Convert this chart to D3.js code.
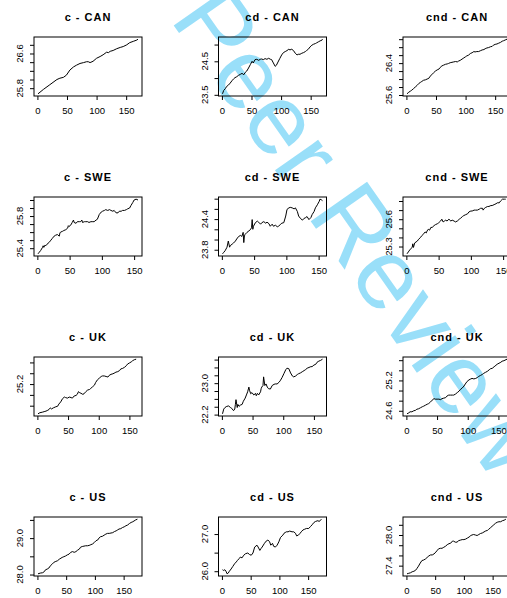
<!DOCTYPE html>
<html><head><meta charset="utf-8">
<script src="https://cdn.jsdelivr.net/npm/d3@7"></script>
<style>html,body{margin:0;padding:0;background:#fff;} svg{display:block;}</style>
</head><body>
<script>
const countries = ["CAN","SWE","UK","US"];
const seriesNames = ["c","cd","cnd"];
const nObs = {CAN:170, SWE:156, UK:164, US:175};
const xTickValues = [0,50,100,150];

// ---- CAN ----
const x_c_CAN = [1,10,21,33,38,44,49,55,61,66,72,78,83,86,89,94,100,106,111,117,120,123,128,134,140,145,151,156,162,168,170];
const y_c_CAN = [25.67,25.77,25.88,26.00,26.03,26.05,26.10,26.22,26.29,26.33,26.37,26.39,26.41,26.41,26.39,26.42,26.49,26.53,26.57,26.63,26.62,26.65,26.67,26.71,26.74,26.76,26.80,26.85,26.88,26.91,26.93];
const x_cd_CAN = [1,3,6,8,11,14,17,20,22,25,28,31,34,37,39,42,45,48,51,53,56,59,62,65,67,70,73,76,79,82,84,87,90,92,94,98,101,104,107,110,113,115,118,121,124,127,129,132,135,138,141,143,146,149,152,155,158,160,163,166,169,170];
const y_cd_CAN = [23.53,23.63,23.69,23.75,23.79,23.85,23.92,23.98,24.01,24.04,24.08,24.11,24.14,24.10,24.16,24.21,24.30,24.40,24.50,24.45,24.55,24.56,24.53,24.56,24.57,24.55,24.58,24.56,24.59,24.56,24.55,24.45,24.35,24.38,24.45,24.59,24.69,24.76,24.79,24.82,24.86,24.84,24.86,24.82,24.74,24.69,24.71,24.71,24.74,24.76,24.79,24.82,24.86,24.93,24.98,25.01,25.03,25.05,25.08,25.11,25.13,25.16];
const x_cnd_CAN = [1,4,7,9,12,15,18,21,24,26,29,32,35,38,40,43,46,49,52,55,57,60,63,66,69,71,74,77,80,83,86,88,91,94,97,100,102,105,108,111,114,116,119,122,125,128,131,133,136,139,142,145,147,150,153,156,159,162,164,167,170];
const y_cnd_CAN = [25.63,25.67,25.70,25.72,25.76,25.80,25.84,25.89,25.92,25.94,25.97,25.98,26.00,26.02,26.07,26.11,26.16,26.20,26.23,26.25,26.29,26.33,26.35,26.37,26.38,26.39,26.41,26.42,26.43,26.44,26.43,26.45,26.47,26.50,26.53,26.56,26.58,26.60,26.64,26.66,26.69,26.68,26.69,26.69,26.71,26.73,26.74,26.76,26.78,26.79,26.81,26.82,26.85,26.87,26.88,26.90,26.92,26.95,26.96,26.98,27.00];

// ---- SWE ----
const x_c_SWE = [1,3,5,8,9,10,12,13,15,18,21,23,26,28,31,34,35,36,39,41,44,47,48,49,52,54,56,57,60,62,65,67,69,70,73,75,78,80,83,86,88,91,93,96,99,101,104,106,109,112,114,117,119,122,125,127,130,132,135,138,140,143,145,148,150,153,156];
const y_c_SWE = [25.33,25.35,25.37,25.41,25.43,25.41,25.44,25.43,25.45,25.47,25.50,25.52,25.55,25.56,25.57,25.55,25.59,25.60,25.61,25.62,25.63,25.65,25.68,25.67,25.69,25.72,25.75,25.72,25.71,25.73,25.73,25.73,25.75,25.72,25.73,25.73,25.73,25.72,25.73,25.73,25.73,25.75,25.76,25.82,25.85,25.86,25.87,25.88,25.87,25.88,25.87,25.86,25.87,25.84,25.84,25.86,25.86,25.87,25.87,25.88,25.89,25.90,25.93,25.97,26.00,26.01,26.00];
const x_cd_SWE = [1,3,5,8,10,12,13,16,18,21,23,26,29,31,33,34,35,36,39,42,44,46,47,48,49,52,55,57,60,62,65,68,70,73,75,78,80,83,86,88,91,93,96,99,101,104,106,109,112,114,117,119,122,125,127,130,132,135,138,140,143,145,148,151,152,154,156];
const y_cd_SWE = [23.72,23.75,23.78,23.85,23.97,23.85,23.88,23.91,23.93,23.97,24.01,24.06,24.08,24.06,24.14,23.94,24.07,24.10,24.14,24.17,24.19,24.23,24.39,24.20,24.26,24.33,24.36,24.34,24.30,24.33,24.35,24.32,24.34,24.31,24.26,24.30,24.26,24.28,24.25,24.26,24.30,24.32,24.33,24.46,24.59,24.62,24.63,24.62,24.60,24.62,24.55,24.46,24.41,24.38,24.41,24.43,24.45,24.39,24.43,24.49,24.55,24.62,24.68,24.75,24.79,24.78,24.76];
const x_cnd_SWE = [1,4,6,9,10,11,13,15,17,19,22,24,27,29,31,32,34,36,38,40,43,45,48,50,53,55,57,59,61,63,66,69,71,74,76,79,82,84,87,89,92,95,97,100,102,105,107,110,113,115,118,119,121,123,126,128,131,133,136,139,141,144,146,149,152,154];
const y_cnd_SWE = [25.22,25.25,25.27,25.29,25.33,25.29,25.34,25.35,25.36,25.38,25.40,25.42,25.44,25.46,25.45,25.47,25.49,25.48,25.51,25.51,25.53,25.54,25.55,25.56,25.58,25.60,25.57,25.58,25.59,25.58,25.60,25.58,25.59,25.58,25.57,25.58,25.60,25.61,25.63,25.64,25.65,25.66,25.68,25.69,25.69,25.70,25.70,25.70,25.71,25.72,25.72,25.70,25.72,25.73,25.74,25.74,25.75,25.75,25.76,25.77,25.78,25.78,25.80,25.82,25.82,25.82];

// ---- UK ----
const x_c_UK = [1,4,8,11,14,16,19,21,23,26,30,33,35,38,41,44,46,49,52,55,57,60,63,65,67,69,71,74,76,79,82,85,87,90,93,95,98,101,104,106,109,112,115,117,120,123,125,128,131,134,136,139,142,145,147,150,153,155,158,161];
const y_c_UK = [24.65,24.67,24.68,24.69,24.70,24.71,24.73,24.76,24.74,24.76,24.78,24.79,24.83,24.87,24.93,24.96,24.95,24.94,24.96,24.95,24.94,24.98,24.99,25.01,25.06,25.04,25.03,25.01,25.02,25.06,25.09,25.10,25.12,25.15,25.18,25.23,25.28,25.31,25.34,25.35,25.35,25.34,25.33,25.36,25.38,25.39,25.40,25.42,25.43,25.45,25.48,25.49,25.51,25.54,25.57,25.59,25.61,25.63,25.65,25.66];
const x_cd_UK = [1,3,5,8,11,14,16,19,21,22,23,25,26,28,30,33,35,38,40,42,44,45,47,49,52,55,56,58,60,63,64,65,67,68,70,72,74,76,79,82,85,87,90,93,95,98,101,104,106,109,112,115,117,120,123,125,128,131,134,136,139,142,145,147,150,153,155,158,161,164];
const y_cd_UK = [22.22,22.34,22.38,22.41,22.42,22.38,22.36,22.30,22.34,22.46,22.58,22.38,22.46,22.41,22.44,22.46,22.54,22.62,22.70,22.78,22.90,22.82,22.73,22.76,22.70,22.74,22.68,22.74,22.70,22.78,22.86,22.90,22.94,23.16,22.94,22.98,22.90,22.86,22.85,22.94,22.97,22.98,22.98,23.02,23.06,23.14,23.24,23.34,23.38,23.37,23.26,23.18,23.16,23.18,23.22,23.24,23.26,23.29,23.32,23.34,23.38,23.40,23.42,23.42,23.46,23.48,23.53,23.56,23.58,23.61];
const x_cnd_UK = [1,4,6,9,12,15,17,20,23,26,28,31,34,36,39,42,45,47,50,53,56,58,61,64,66,69,72,75,77,80,83,86,88,91,94,96,99,102,105,107,110,113,116,118,121,124,126,129,132,135,137,140,143,146,148,151,154,156,159,164];
const y_cnd_UK = [24.54,24.56,24.58,24.58,24.60,24.61,24.63,24.64,24.66,24.68,24.69,24.71,24.73,24.74,24.77,24.81,24.84,24.83,24.83,24.83,24.82,24.84,24.85,24.86,24.89,24.91,24.91,24.91,24.91,24.93,24.96,24.99,25.02,25.05,25.09,25.13,25.18,25.21,25.23,25.24,25.23,25.24,25.26,25.28,25.30,25.32,25.34,25.36,25.38,25.41,25.43,25.44,25.47,25.50,25.52,25.54,25.56,25.58,25.59,25.62];

// ---- US ----
const x_c_US = [1,5,9,12,14,17,20,23,26,29,32,35,38,41,43,46,49,52,55,58,61,64,67,70,73,75,78,81,84,87,90,93,96,99,102,105,107,110,113,116,119,122,125,128,131,134,137,139,142,145,148,151,154,157,160,163,166,168,171,174];
const y_c_US = [28.02,28.04,28.05,28.08,28.13,28.15,28.18,28.25,28.29,28.34,28.36,28.38,28.42,28.45,28.47,28.49,28.51,28.54,28.56,28.61,28.63,28.61,28.63,28.67,28.70,28.75,28.77,28.78,28.79,28.79,28.80,28.82,28.84,28.88,28.93,28.95,29.00,29.04,29.05,29.08,29.11,29.13,29.13,29.14,29.15,29.18,29.20,29.22,29.25,29.26,29.29,29.31,29.34,29.36,29.40,29.43,29.45,29.47,29.50,29.52];
const x_cd_US = [1,3,5,7,9,11,13,16,19,22,25,27,30,32,35,38,41,45,48,51,54,57,61,63,66,68,70,74,77,80,83,85,88,90,93,96,99,102,106,108,110,112,115,118,122,125,128,130,133,136,138,141,144,147,151,154,157,160,163,167,169,171,173];
const y_cd_US = [26.04,26.02,26.04,26.00,25.93,25.95,26.00,26.06,26.13,26.20,26.25,26.29,26.34,26.38,26.36,26.43,26.47,26.49,26.45,26.43,26.49,26.65,26.70,26.65,26.56,26.61,26.65,26.75,26.81,26.84,26.79,26.70,26.75,26.67,26.65,26.70,26.79,26.91,26.97,27.02,27.04,27.06,27.06,27.08,27.06,27.06,27.02,26.95,26.97,27.02,27.06,27.11,27.13,27.15,27.15,27.20,27.25,27.31,27.34,27.36,27.34,27.36,27.40];
const x_cnd_US = [1,4,7,10,13,16,18,21,24,27,30,33,36,39,42,45,48,50,53,56,59,62,65,68,71,74,77,80,82,85,88,91,94,97,100,103,106,109,112,114,117,120,123,126,129,132,135,138,141,143,146,149,152,155,158,161,164,167,170,173];
const y_cnd_US = [27.24,27.25,27.26,27.28,27.29,27.31,27.34,27.39,27.45,27.50,27.51,27.53,27.56,27.59,27.61,27.61,27.63,27.65,27.69,27.73,27.74,27.74,27.76,27.78,27.81,27.83,27.84,27.88,27.88,27.86,27.86,27.89,27.90,27.91,27.91,27.92,27.94,27.96,27.99,28.00,28.01,28.00,27.99,28.01,28.03,28.04,28.06,28.08,28.09,28.11,28.14,28.17,28.20,28.23,28.25,28.26,28.26,28.28,28.29,28.31];

// ---- y-axis ticks and labelled ticks ----
const yTicks_c_CAN = [25.8,26.0,26.2,26.4,26.6,26.8];        const yLab_c_CAN = [25.8,26.6];
const yTicks_cd_CAN = [23.5,24.0,24.5,25.0];                  const yLab_cd_CAN = [23.5,24.5];
const yTicks_cnd_CAN = [25.6,25.8,26.0,26.2,26.4,26.6,26.8,27.0]; const yLab_cnd_CAN = [25.6,26.4];
const yTicks_c_SWE = [25.4,25.5,25.6,25.7,25.8,25.9,26.0];    const yLab_c_SWE = [25.4,25.8];
const yTicks_cd_SWE = [23.8,24.0,24.2,24.4,24.6,24.8];        const yLab_cd_SWE = [23.8,24.4];
const yTicks_cnd_SWE = [25.3,25.4,25.5,25.6,25.7,25.8];       const yLab_cnd_SWE = [25.3,25.6];
const yTicks_c_UK = [24.6,24.8,25.0,25.2,25.4,25.6];          const yLab_c_UK = [24.6,25.2];
const yTicks_cd_UK = [22.2,22.4,22.6,22.8,23.0,23.2,23.4,23.6]; const yLab_cd_UK = [22.2,23.0];
const yTicks_cnd_UK = [24.6,24.8,25.0,25.2,25.4,25.6];        const yLab_cnd_UK = [24.6,25.2];
const yTicks_c_US = [28.0,28.5,29.0,29.5];                    const yLab_c_US = [28.0,29.0];
const yTicks_cd_US = [26.0,26.5,27.0];                        const yLab_cd_US = [26.0,27.0];
const yTicks_cnd_US = [27.4,27.6,27.8,28.0,28.2];             const yLab_cnd_US = [27.4,28.0];

const data = {
  c_CAN:[x_c_CAN,y_c_CAN,yTicks_c_CAN,yLab_c_CAN], cd_CAN:[x_cd_CAN,y_cd_CAN,yTicks_cd_CAN,yLab_cd_CAN], cnd_CAN:[x_cnd_CAN,y_cnd_CAN,yTicks_cnd_CAN,yLab_cnd_CAN],
  c_SWE:[x_c_SWE,y_c_SWE,yTicks_c_SWE,yLab_c_SWE], cd_SWE:[x_cd_SWE,y_cd_SWE,yTicks_cd_SWE,yLab_cd_SWE], cnd_SWE:[x_cnd_SWE,y_cnd_SWE,yTicks_cnd_SWE,yLab_cnd_SWE],
  c_UK:[x_c_UK,y_c_UK,yTicks_c_UK,yLab_c_UK], cd_UK:[x_cd_UK,y_cd_UK,yTicks_cd_UK,yLab_cd_UK], cnd_UK:[x_cnd_UK,y_cnd_UK,yTicks_cnd_UK,yLab_cnd_UK],
  c_US:[x_c_US,y_c_US,yTicks_c_US,yLab_c_US], cd_US:[x_cd_US,y_cd_US,yTicks_cd_US,yLab_cd_US], cnd_US:[x_cnd_US,y_cnd_US,yTicks_cnd_US,yLab_cnd_US]
};

const FONT = "'Liberation Sans', Arial, Helvetica, sans-serif";
const svg = d3.select("body").append("svg").attr("width",507).attr("height",598);

// watermark
svg.append("text")
  .attr("transform","translate(67,-127) rotate(55)")
  .attr("font-family",FONT).attr("font-size",100)
  .attr("fill","#00AEEF").attr("fill-opacity",0.4)
  .text("For Peer Review");

const colLeft = [34,218.5,403], rowTop = [37,197,357,517], W = 108, H = 59;
const fmt = d3.format(".1f");

countries.forEach((ctry, ri) => {
  seriesNames.forEach((s, ci) => {
    const [xs, ys, yt, yl] = data[s + "_" + ctry];
    const n = nObs[ctry];
    const g = svg.append("g").attr("transform", `translate(${colLeft[ci]},${rowTop[ri]})`);
    const x = d3.scaleLinear().domain([1-0.04*(n-1), n+0.04*(n-1)]).range([0,W]);
    const [lo, hi] = d3.extent(ys); const r = hi - lo;
    const y = d3.scaleLinear().domain([lo-0.04*r, hi+0.04*r]).range([H,0]);

    g.append("path").datum(d3.zip(xs, ys))
      .attr("d", d3.line().x(d=>x(d[0])).y(d=>y(d[1])))
      .attr("fill","none").attr("stroke","#000").attr("stroke-width",1).attr("stroke-linejoin","round");
    g.append("rect").attr("width",W).attr("height",H).attr("fill","none").attr("stroke","#000").attr("stroke-width",1);

    // x axis
    const xa = g.append("g").attr("transform",`translate(0,${H})`)
      .call(d3.axisBottom(x).tickValues(xTickValues).tickSize(4).tickPadding(7).tickFormat(d3.format("d")));
    xa.select(".domain").remove();
    xa.selectAll("text").attr("font-family",FONT).attr("font-size",9.5).attr("fill","#000");

    // y axis
    const dom = y.domain();
    const ticks = yt.filter(v => v >= dom[0] && v <= dom[1]);
    const ya = g.append("g").call(d3.axisLeft(y).tickValues(ticks).tickSize(4).tickFormat(""));
    ya.select(".domain").remove();
    g.append("g").selectAll("text").data(yl.filter(v => v >= dom[0] && v <= dom[1])).join("text")
      .attr("transform", v => `translate(-11,${y(v)}) rotate(-90)`)
      .attr("text-anchor","middle").attr("font-family",FONT).attr("font-size",9.5)
      .text(v => fmt(v));

    // title
    g.append("text").attr("x",W/2).attr("y",-16).attr("text-anchor","middle")
      .attr("font-family",FONT).attr("font-size",11).attr("font-weight","bold").attr("letter-spacing",1)
      .text(`${s} - ${ctry}`);
  });
});
</script>
</body></html>
